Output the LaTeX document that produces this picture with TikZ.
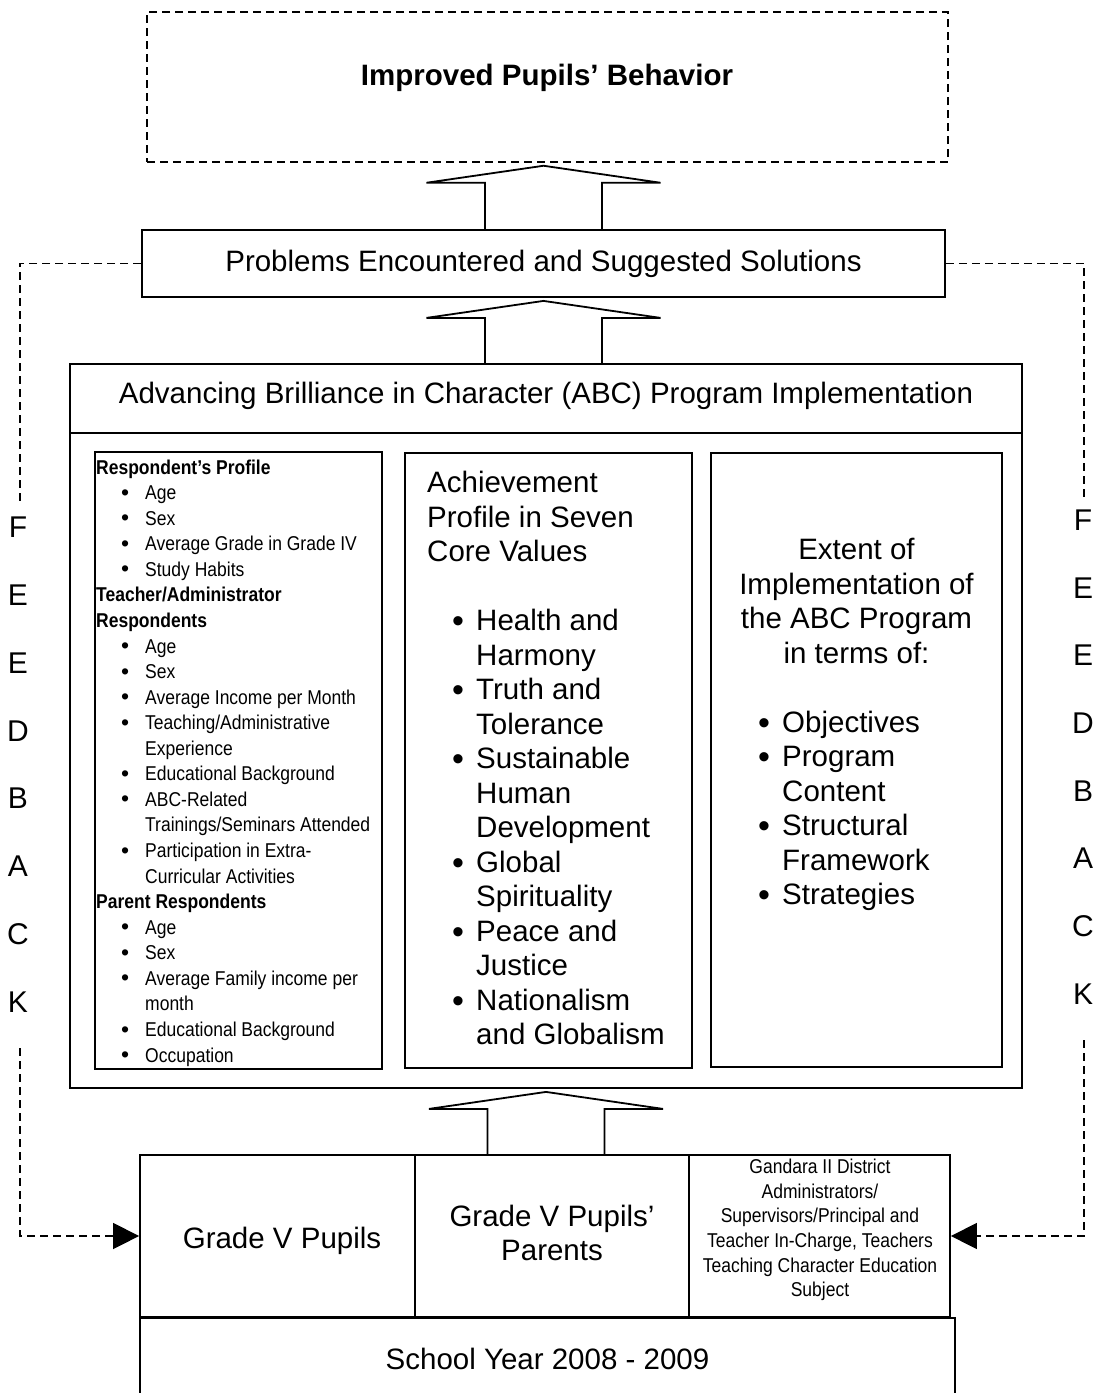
\documentclass[tikz,border=0pt]{standalone}
\usepackage{fontspec}
\setmainfont{Liberation Sans}
\newfontfamily\narrowsans[FakeStretch=0.875]{Liberation Sans}
\usetikzlibrary{arrows.meta,calc}

% text sizes
\newcommand\sizemain{\fontsize{29.5}{34.5}\selectfont}
\newcommand\sizesmall{\narrowsans\fontsize{20}{24.6}\selectfont}
\newcommand\sizefb{\fontsize{30}{34}\selectfont}

% bullets
\newcommand\smalldot{\smash{\raisebox{-0.5pt}{\normalfont\fontsize{23}{23}\selectfont\textbullet}}}
\newcommand\bigdot{\smash{\raisebox{-2pt}{\fontsize{34}{34}\selectfont\textbullet}}}

% list lines of the profile column
\newcommand\hd[1]{\textbf{#1}}
\newcommand\bu[1]{\hspace*{25pt}\makebox[24pt][l]{\smalldot}#1}
\newcommand\co[1]{\hspace*{49pt}#1}
% list lines of the core values column
\newcommand\mbu[1]{\hspace*{25pt}\makebox[24pt][l]{\bigdot}#1}
\newcommand\mco[1]{\hspace*{49pt}#1}

% hollow upward block arrow from a base point to the box above it
\newcommand\upblock[2]{%
  \path (#1) coordinate (ab);
  \path (ab |- #2) coordinate (at);
  \draw[blk] ($(ab)+(-58.5,0)$) -- ($(at)+(-58.5,20)$) -- ($(at)+(-117,20)$)
    -- ($(at)+(0,3)$) -- ($(at)+(117,20)$) -- ($(at)+(58.5,20)$)
    -- ($(ab)+(58.5,0)$);}

\begin{document}
\begin{tikzpicture}[x=1pt,y=-1pt,
  box/.style={draw, line width=1.8pt, inner sep=0pt},
  dbox/.style={draw, line width=1.5pt, dash pattern=on 8pt off 5pt, inner sep=0pt},
  blk/.style={draw, line width=1.8pt, line join=miter},
  fb/.style={draw, line width=1.5pt, dash pattern=on 8pt off 5pt},
  fbtip/.style={-{Triangle[length=26pt,width=26pt]}},
  txt/.style={inner sep=0pt},
  letter/.style={inner sep=0pt, font=\sizefb}]

\useasboundingbox (0,0) rectangle (1093,1393);
\clip (0,0) rectangle (1093,1393);

% outcome
\node[dbox, minimum width=801pt, minimum height=150pt] (top) at (547.5,87) {};
\node[txt, font=\sizemain\bfseries] (toptxt) at (547,78) {Improved Pupils’ Behavior};

% problems
\node[box, minimum width=803pt, minimum height=67pt, font=\sizemain] (prob) at (543.5,263.5)
  {Problems Encountered and Suggested Solutions};

% program implementation
\node[box, minimum width=952pt, minimum height=724pt] (abc) at (546,726) {};
\draw[line width=1.8pt] (abc.west |- 0,433) coordinate (dl) -- (abc.east |- 0,433) coordinate (dr);
\node[txt, font=\sizemain] (abctxt) at (546,396)
  {Advancing Brilliance in Character (ABC) Program Implementation};

\node[box, minimum width=287pt, minimum height=617pt] (lbox) at (238.5,760.5) {};
\node[box, minimum width=287pt, minimum height=615pt] (mbox) at (548.5,760.5) {};
\node[box, minimum width=291pt, minimum height=614pt] (rbox) at (856.5,760) {};

% profile column
\foreach \t [count=\i from 0] in {
  \hd{Respondent’s Profile}, \bu{Age}, \bu{Sex}, \bu{Average Grade in Grade IV},
  \bu{Study Habits}, \hd{Teacher/Administrator}, \hd{Respondents}, \bu{Age},
  \bu{Sex}, \bu{Average Income per Month}, \bu{Teaching/Administrative},
  \co{Experience}, \bu{Educational Background}, \bu{ABC-Related},
  \co{Trainings/Seminars Attended}, \bu{Participation in Extra-},
  \co{Curricular Activities}, \hd{Parent Respondents}, \bu{Age}, \bu{Sex},
  \bu{Average Family income per}, \co{month}, \bu{Educational Background},
  \bu{Occupation}}
  \node[txt, anchor=base west, font=\sizesmall] (L\i) at (96,{474+25.57*\i}) {\t};

% core values column
\foreach \t [count=\i from 0] in {
  Achievement, Profile in Seven, Core Values, {}, \mbu{Health and}, \mco{Harmony},
  \mbu{Truth and}, \mco{Tolerance}, \mbu{Sustainable}, \mco{Human},
  \mco{Development}, \mbu{Global}, \mco{Spirituality}, \mbu{Peace and},
  \mco{Justice}, \mbu{Nationalism}, \mco{and Globalism}}
  \node[txt, anchor=base west, font=\sizemain] (M\i) at (427,{492.5+34.5*\i}) {\t};

% extent column
\foreach \t [count=\i from 0] in {Extent of, Implementation of, the ABC Program, in terms of:}
  \node[txt, anchor=base, font=\sizemain] (R\i) at (856.5,{559.5+34.5*\i}) {\t};
\foreach \t [count=\i from 0] in {
  \makebox[24pt][l]{\bigdot}Objectives, \makebox[24pt][l]{\bigdot}Program,
  \hspace*{24pt}Content, \makebox[24pt][l]{\bigdot}Structural,
  \hspace*{24pt}Framework, \makebox[24pt][l]{\bigdot}Strategies}
  \node[txt, anchor=base west, font=\sizemain] (B\i) at (758,{732+34.5*\i}) {\t};

% respondents
\node[box, minimum width=275pt, minimum height=162pt] (pupils) at (277.5,1236) {};
\node[box, minimum width=274pt, minimum height=162pt] (parents) at (552,1236) {};
\node[box, minimum width=261pt, minimum height=162pt] (staff) at (819.5,1236) {};
\node[txt, font=\sizemain] (pupilstxt) at (282,1241) {Grade V Pupils};
\node[txt, font=\sizemain, align=center] (parentstxt) at (552,1233)
  {Grade V Pupils’\\Parents};
\node[txt, font=\sizesmall, align=center] (stafftxt) at (820,1230)
  {Gandara II District\\Administrators/\\Supervisors/Principal and\\Teacher In-Charge, Teachers\\Teaching Character Education\\Subject};
\node[box, minimum width=815pt, minimum height=82pt, font=\sizemain] (year) at (547.5,1359)
  {School Year 2008 - 2009};

% block arrows
\upblock{prob.north}{top.south}
\upblock{prob.south |- abc.north}{prob.south}
\upblock{abc.south |- parents.north}{abc.south}

% feedback loops
\coordinate (fbLtop) at (20,506);
\coordinate (fbLbot) at (20,1048);
\coordinate (fbRtop) at (1084,498);
\coordinate (fbRbot) at (1084,1040);
\draw[fb] (prob.west) -| (fbLtop);
\draw[fb, fbtip] (fbLbot) |- (pupils.west);
\draw[fb] (prob.east) -| (fbRtop);
\draw[fb, fbtip] (fbRbot) |- (staff.east);

\foreach \c [count=\i from 0] in {F,E,E,D,B,A,C,K} {
  \node[letter] (FL\i) at (18,{527+67.9*\i}) {\c};
  \node[letter] (FR\i) at (1083,{520+67.7*\i}) {\c};
}
\end{tikzpicture}
\end{document}
